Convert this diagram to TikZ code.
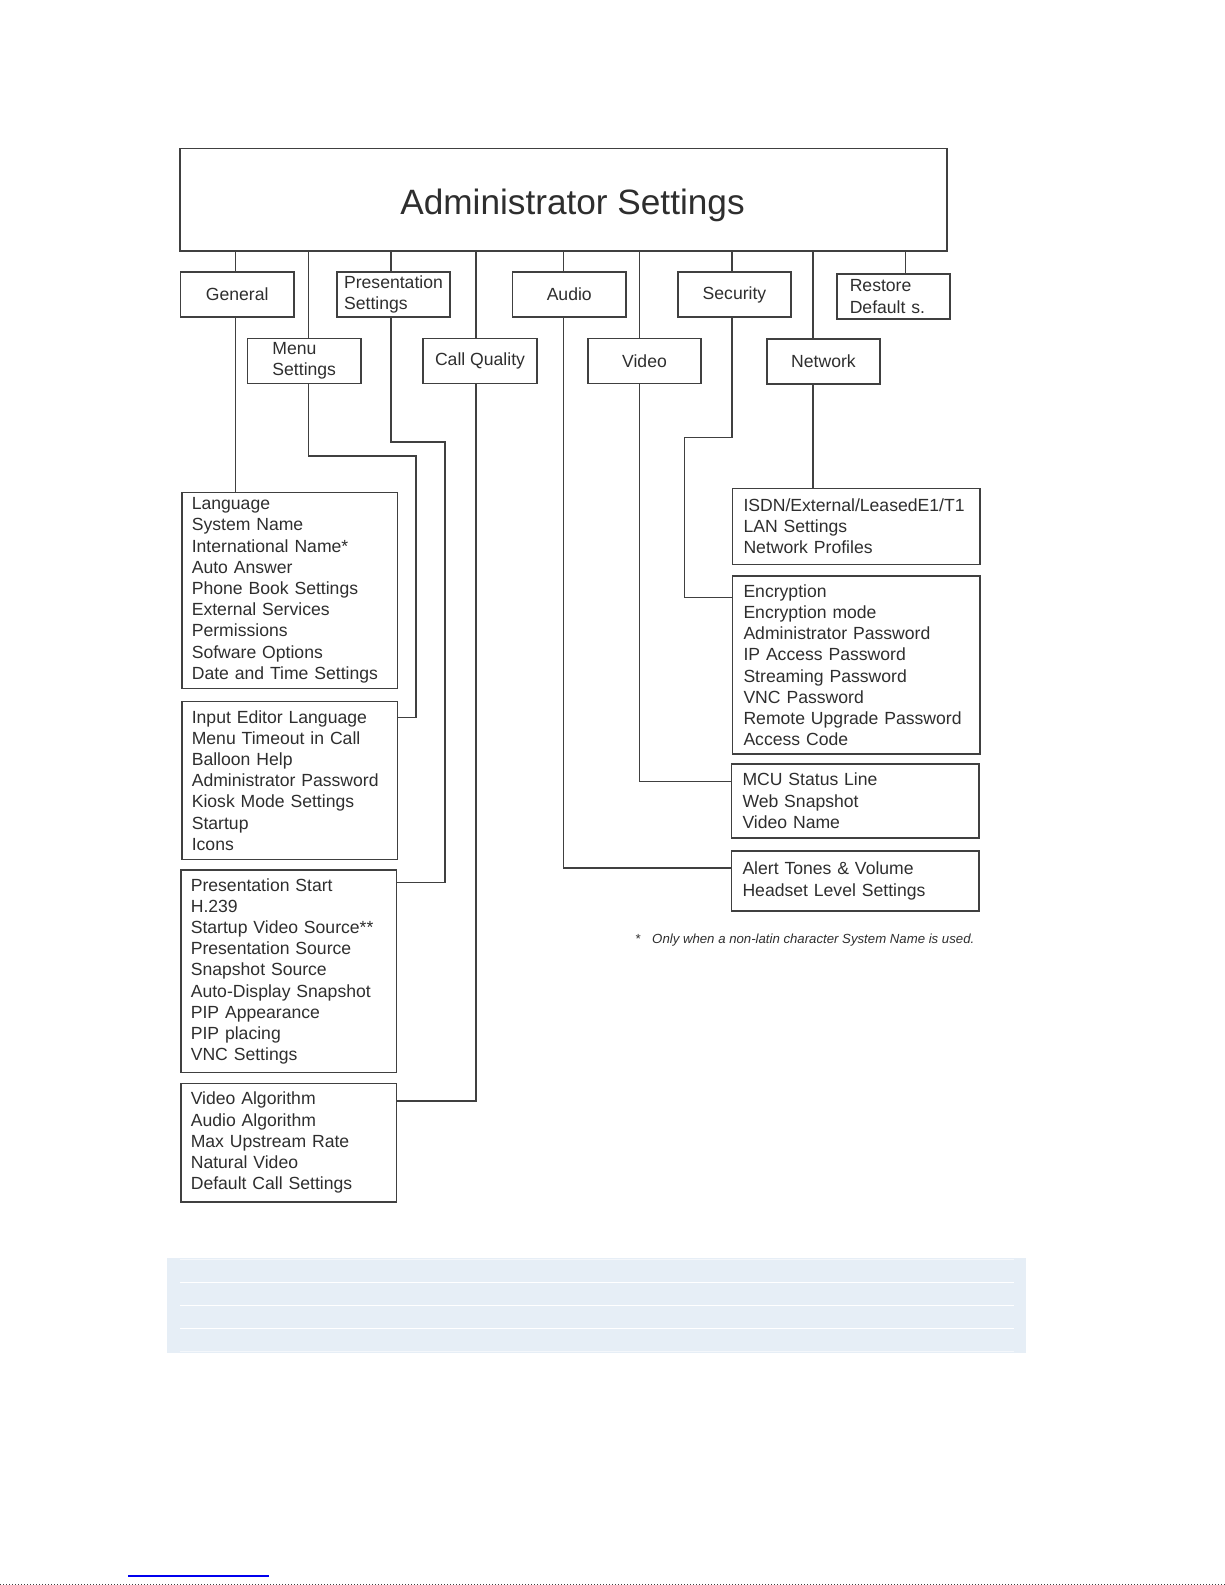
\documentclass[tikz,border=0pt]{standalone}
\usepackage{fontspec}
\setmainfont{Liberation Sans}
\definecolor{lngray}{HTML}{404040}
\definecolor{txgray}{HTML}{2E2E2E}
\definecolor{bandblue}{HTML}{E6EEF6}
\definecolor{urlblue}{HTML}{0000EE}
\newcommand{\admtitlefont}{\fontsize{17.6}{21}\selectfont}
\newcommand{\admitemfont}{\fontsize{8.8}{10.6}\selectfont}
\newcommand{\admnotefont}{\fontsize{6.6}{8}\selectfont\itshape}
\tikzset{
  link/.style   ={draw=lngray, line width=0.8pt},
  topbox/.style ={draw=lngray, line width=0.8pt, minimum width=383.5pt,
                  minimum height=51.25pt, inner sep=0pt, text=txgray, font=\admtitlefont,
                  text height=18.5pt, text depth=3.8pt},
  cat/.style    ={draw=lngray, line width=0.8pt, minimum width=56.75pt,
                  minimum height=22.5pt, inner sep=1pt, align=left, text=txgray, font=\admitemfont},
  items/.style  ={draw=lngray, line width=0.8pt, anchor=north west, align=left,
                  inner xsep=5.5pt, inner ysep=0pt, text=txgray, font=\admitemfont},
  itemsl/.style ={items, text width=97.75pt, inner xsep=5pt},
  itemsr/.style ={items, text width=112.85pt},
}

\begin{document}
\begin{tikzpicture}[x=0.5pt,y=-0.5pt]
  \useasboundingbox (0,0) rectangle (1225,1585);
  \node[topbox] (admin) at (563.5,199.75) {\hspace*{9pt}Administrator Settings};
  % menus, first and second row
  \node[cat] (gen)  at (237.25,294.5) {General};
  \node[cat] (pres) at (393.5,294.5)  {Presentation\\Settings};
  \node[cat] (aud)  at (569.25,294.5) {Audio};
  \node[cat] (sec)  at (734.5,294.5)  {Security};
  \node[cat, text width=43.75pt, inner xsep=6.5pt] (rest) at (893.5,296.5) {Restore\\Default s.};
  \node[cat] (menu) at (304.25,361)   {Menu\\Settings};
  \node[cat] (cq)   at (480,361)      {Call Quality};
  \node[cat] (vid)  at (644.5,361)    {Video};
  \node[cat] (net)  at (823.5,361.5)  {Network};
  % lists, left column
  \node[itemsl, minimum height=98pt] (genl) at (181,491.5)
    {Language\\System Name\\International Name*\\Auto Answer\\Phone Book Settings\\External Services\\Permissions\\Sofware Options\\Date and Time Settings};
  \node[itemsl, minimum height=79pt] (menul) at (181,700.5)
    {Input Editor Language\\Menu Timeout in Call\\Balloon Help\\Administrator Password\\Kiosk Mode Settings\\Startup\\Icons};
  \node[itemsl, minimum height=101.25pt] (presl) at (180,869.3)
    {Presentation Start\\H.239\\Startup Video Source**\\Presentation Source\\Snapshot Source\\Auto-Display Snapshot\\PIP Appearance\\PIP placing\\VNC Settings};
  \node[itemsl, minimum height=59.35pt] (cql) at (180,1082.5)
    {Video Algorithm\\Audio Algorithm\\Max Upstream Rate\\Natural Video\\Default Call Settings};
  % lists, right column
  \node[itemsr, minimum height=38pt] (netl) at (731.7,487.5)
    {ISDN/External/LeasedE1/T1\\LAN Settings\\Network Profiles};
  \node[itemsr, minimum height=89pt] (secl) at (731.7,575.3)
    {Encryption\\Encryption mode\\Administrator Password\\IP Access Password\\Streaming Password\\VNC Password\\Remote Upgrade Password\\Access Code};
  \node[itemsr, minimum height=37pt] (vidl) at (730.7,763)
    {MCU Status Line\\Web Snapshot\\Video Name};
  \node[itemsr, minimum height=29.8pt] (audl) at (730.7,850.4)
    {Alert Tones \& Volume\\Headset Level Settings};
  \node[anchor=west, inner sep=0pt, text=txgray, font=\admnotefont] (note) at (634.7,940)
    {*\hspace{6pt}Only when a non-latin character System Name is used.};
  % stems from the top box
  \foreach \n/\x in {gen/235.3,menu/308.5,pres/391,cq/476,aud/563.5,vid/639.5,sec/731.7,net/813,rest/905.5}{
    \coordinate (\n-x) at (\x,0);
    \draw[link] (admin.south -| \n-x) -- (\n.north -| \n-x);}
  % down to the lists
  \coordinate (menu-jog) at (416,456);
  \coordinate (pres-jog) at (445,441.7);
  \coordinate (sec-jog)  at (684.5,437.5);
  \coordinate (menu-in) at (0,717.5);
  \coordinate (pres-in) at (0,882.3);
  \coordinate (cq-in)   at (0,1100.7);
  \coordinate (sec-in)  at (0,597.3);
  \coordinate (vid-in)  at (0,781.5);
  \coordinate (aud-in)  at (0,868);
  \draw[link] (gen.south -| gen-x) -- (genl.north -| gen-x);
  \draw[link] (menu.south -| menu-x) |- (menu-jog) |- (menul.east |- menu-in);
  \draw[link] (pres.south -| pres-x) |- (pres-jog) |- (presl.east |- pres-in);
  \draw[link] (cq.south -| cq-x) |- (cql.east |- cq-in);
  \draw[link] (aud.south -| aud-x) |- (audl.west |- aud-in);
  \draw[link] (vid.south -| vid-x) |- (vidl.west |- vid-in);
  \draw[link] (sec.south -| sec-x) |- (sec-jog) |- (secl.west |- sec-in);
  \draw[link] (net.south -| net-x) -- (netl.north -| net-x);
  % page footer
  \fill[bandblue] (167.3,1258) rectangle (1025.5,1352.5);
  \foreach \y in {1282.3,1305.3,1328.3}
    \draw[white, line width=0.7pt] (180,\y) -- (1014,\y);
  \foreach \y in {1259.3,1351}
    \draw[white!55!bandblue, line width=0.5pt] (180,\y) -- (1014,\y);
  \draw[urlblue, line width=0.6pt] (128,1576) -- (269,1576);
  \draw[black!75, densely dotted, line width=0.5pt] (0,1584) -- (1225,1584);
\end{tikzpicture}
\end{document}
